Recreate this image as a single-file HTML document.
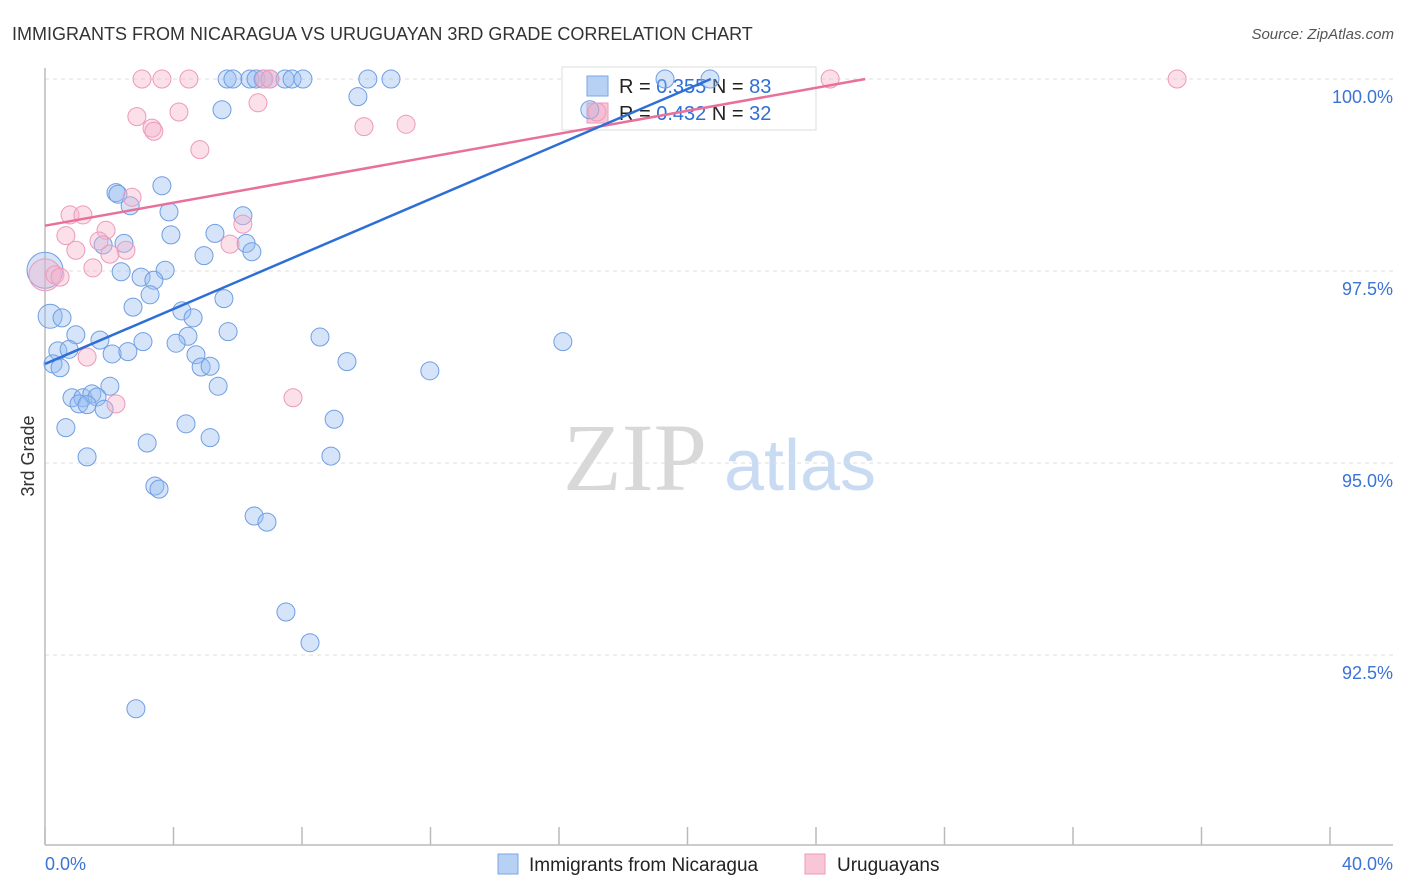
<!DOCTYPE html>
<html><head><meta charset="utf-8"><style>
body{margin:0;background:#fff;font-family:"Liberation Sans",sans-serif}
#wrap{position:relative;width:1406px;height:892px;overflow:hidden}
</style></head><body>
<div id="wrap">
<svg id="chart" width="1406" height="892" xmlns="http://www.w3.org/2000/svg" font-family="Liberation Sans, sans-serif">
<text x="12" y="40" font-size="18" fill="#333">IMMIGRANTS FROM NICARAGUA VS URUGUAYAN 3RD GRADE CORRELATION CHART</text>
<text x="1394" y="39" font-size="15" fill="#555" font-style="italic" text-anchor="end">Source: ZipAtlas.com</text>
<text x="34" y="456" font-size="18" fill="#333" text-anchor="middle" transform="rotate(-90 34 456)">3rd Grade</text>
<g>
<text x="635" y="490" font-size="96" font-family="Liberation Serif, serif" fill="#d8d8d8" text-anchor="middle">ZIP</text>
<text x="800" y="490" font-size="72" fill="#c9dbf3" text-anchor="middle">atlas</text>
</g>
<g id="grid"></g>
<g id="axes"></g>
<g>
<rect x="562" y="67" width="254" height="63" fill="#fff" stroke="#ddd"/>
<rect x="587" y="76" width="21" height="20" fill="#b7d1f5" stroke="#7aa6e6"/>
<text x="619" y="93" font-size="20" fill="#222">R = <tspan fill="#2d6fd6">0.355</tspan>   N = <tspan fill="#2d6fd6">83</tspan></text>
<rect x="587" y="103" width="21" height="20" fill="#f8c6d7" stroke="#ee99b8"/>
<text x="619" y="120" font-size="20" fill="#222">R = <tspan fill="#2d6fd6">0.432</tspan>   N = <tspan fill="#2d6fd6">32</tspan></text>
</g>
<g id="points"></g>
<g id="lines"></g>
<g>
<rect x="498" y="854" width="20" height="20" fill="#b7d1f5" stroke="#7aa6e6"/>
<text x="529" y="871" font-size="19" fill="#222">Immigrants from Nicaragua</text>
<rect x="805" y="854" width="20" height="20" fill="#f8c6d7" stroke="#ee99b8"/>
<text x="837" y="871" font-size="19" fill="#222">Uruguayans</text>
</g>
</svg>
</div>
<script>
const blueX=[5.67,5.85,6.38,6.57,6.79,7.00,7.47,7.69,8.03,10.05,10.77,9.74,5.51,3.64,2.21,2.27,2.65,3.86,6.16,3.92,5.29,2.46,6.26,1.81,6.44,4.95,0,3.74,2.37,2.99,3.39,3.27,5.57,2.74,4.26,4.61,0.16,0.53,5.70,0.96,1.71,4.45,8.56,3.05,4.08,16.12,0.40,0.75,2.09,2.58,4.70,9.40,0.25,0.47,4.86,5.14,11.98,2.02,5.39,0.84,1.18,1.46,1.62,1.06,1.31,1.84,9.00,0.65,4.39,5.14,3.18,1.31,8.90,3.42,3.55,6.51,6.91,7.50,8.25,2.83,16.96,20.70,19.30];
const blueY=[100,100,100,100,100,100,100,100,100,100,100,99.77,99.60,98.61,98.52,98.50,98.35,98.27,98.22,97.97,97.99,97.86,97.86,97.84,97.75,97.70,97.51,97.51,97.49,97.42,97.38,97.19,97.14,97.03,96.98,96.89,96.91,96.89,96.71,96.67,96.60,96.65,96.64,96.58,96.56,96.58,96.46,96.48,96.42,96.45,96.41,96.32,96.29,96.24,96.25,96.26,96.20,96.00,96.00,95.85,95.85,95.90,95.86,95.77,95.76,95.70,95.57,95.46,95.51,95.33,95.26,95.08,95.09,94.70,94.66,94.31,94.23,93.06,92.66,91.80,99.60,100,100];
const blueR=[9,9,9,9,9,9,9,9,9,9,9,9,9,9,9,9,9,9,9,9,9,9,9,9,9,9,18,9,9,9,9,9,9,9,9,9,12,9,9,9,9,9,9,9,9,9,9,9,9,9,9,9,9,9,9,9,9,9,9,9,9,9,9,9,9,9,9,9,9,9,9,9,9,9,9,9,9,9,9,9,9,9,9];
const pinkX=[3.02,3.64,4.48,6.82,7.00,24.44,35.24,2.86,4.17,6.63,3.33,3.39,9.93,11.24,4.82,2.71,0.78,1.18,6.16,1.90,0.65,1.68,5.76,2.52,0.96,2.02,1.49,0,0.31,0.47,1.31,2.21,7.72,17.18];
const pinkY=[100,100,100,100,100,100,100,99.51,99.57,99.69,99.36,99.32,99.38,99.41,99.08,98.46,98.23,98.23,98.11,98.03,97.96,97.89,97.85,97.77,97.77,97.72,97.54,97.45,97.45,97.42,96.38,95.77,95.85,99.57];
const pinkR=[9,9,9,9,9,9,9,9,9,9,9,9,9,9,9,9,9,9,9,9,9,9,9,9,9,9,9,16,9,9,9,9,9,9];
const yTicks=[100,97.5,95,92.5];
const yTickLabels=["100.0%","97.5%","95.0%","92.5%"];
const xTicks=[0,4,8,12,16,20,24,28,32,36,40];
const trendBlue=[96.29,0.179];
const trendPink=[98.09,0.0748];
const NS="http://www.w3.org/2000/svg";
function sx(v){return 45+v*(1285/40);}
function sy(v){return 79+(100-v)*76.8;}
function mk(tag,attrs,parent){const e=document.createElementNS(NS,tag);for(const k in attrs)e.setAttribute(k,attrs[k]);parent.appendChild(e);return e;}
const grid=document.getElementById('grid'),axes=document.getElementById('axes'),pts=document.getElementById('points'),lines=document.getElementById('lines');
yTicks.forEach((t,i)=>{
 const l=mk('line',{x1:45,x2:1393,y1:sy(t),y2:sy(t),stroke:'#ddd','stroke-dasharray':'4,4'},grid);
 
 
 const tx=mk('text',{x:1393,y:sy(t)+24,'font-size':18,fill:'#3b73d6','text-anchor':'end'},axes);
 tx.textContent=yTickLabels[i];
 
 
});
const ax=mk('line',{x1:45,x2:1393,y1:845,y2:845,stroke:'#bbb','stroke-width':1.5},axes);


const ay=mk('line',{x1:45,x2:45,y1:68,y2:845,stroke:'#bbb','stroke-width':1.5},axes);


xTicks.forEach(t=>{
 const l=mk('line',{x1:sx(t),x2:sx(t),y1:827,y2:845,stroke:'#bbb','stroke-width':1.5},axes);
 
 
});
const xl0=mk('text',{x:45,y:870,'font-size':18,fill:'#3b73d6'},axes);xl0.textContent='0.0%';


const xl1=mk('text',{x:1393,y:870,'font-size':18,fill:'#3b73d6','text-anchor':'end'},axes);xl1.textContent='40.0%';


blueX.forEach((x,i)=>{
 const c=mk('circle',{cx:sx(x),cy:sy(blueY[i]),r:blueR[i],fill:'rgba(150,188,240,0.4)',stroke:'#6f9ee3','stroke-width':1},pts);
 
 
});
pinkX.forEach((x,i)=>{
 const c=mk('circle',{cx:sx(x),cy:sy(pinkY[i]),r:pinkR[i],fill:'rgba(246,178,202,0.4)',stroke:'#ee99b8','stroke-width':1},pts);
 
 
});
function trend(tr,color,name){
 const xEnd=Math.min(40,(100-tr[0])/tr[1]);
 const l=mk('line',{x1:sx(0),y1:sy(tr[0]),x2:sx(xEnd),y2:sy(tr[0]+tr[1]*xEnd),stroke:color,'stroke-width':2.5},lines);
 
 
}
trend(trendPink,'#e8709a','trendline-uruguayans');
trend(trendBlue,'#2d6fd6','trendline-nicaragua');
</script>
</body></html>
